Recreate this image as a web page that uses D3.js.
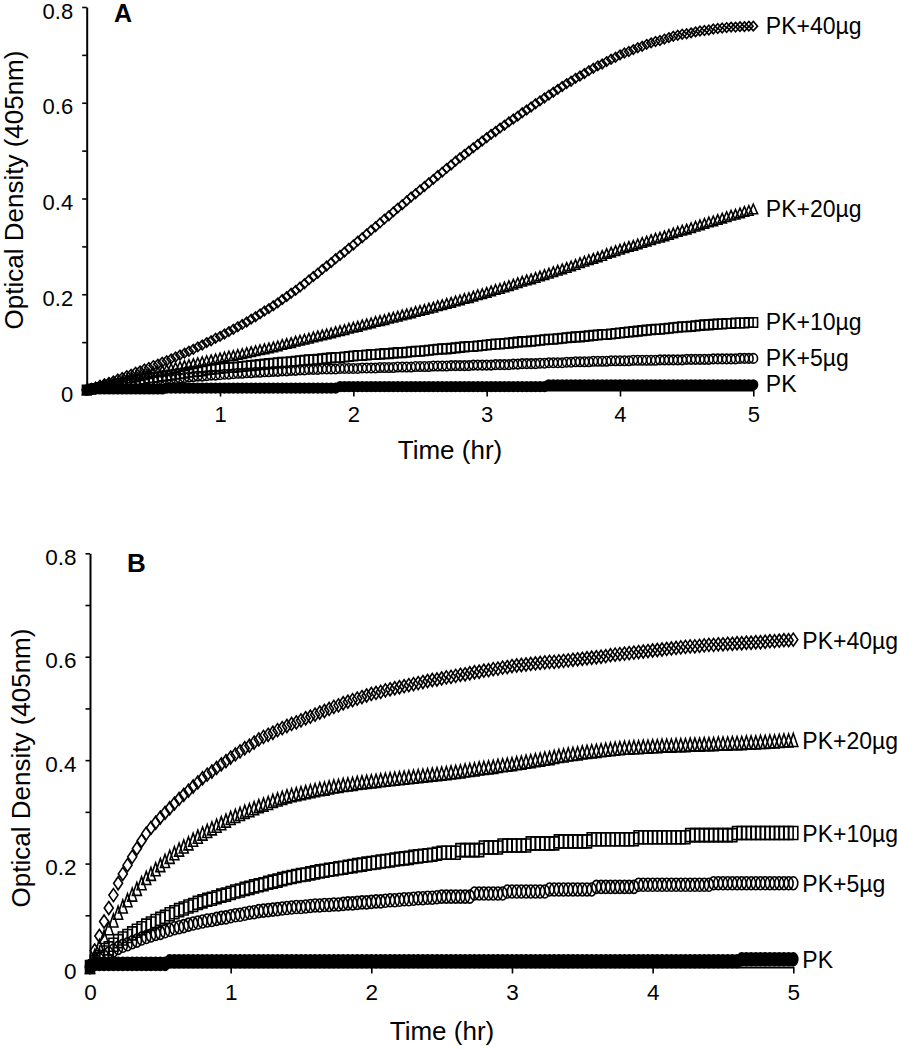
<!DOCTYPE html>
<html><head><meta charset="utf-8">
<script src="https://cdn.jsdelivr.net/npm/d3@7"></script>
<style>html,body{margin:0;padding:0;background:#fff;}svg{display:block;}</style>
</head><body>
<svg id="chart" width="897" height="1050"></svg>
<script>
// ---------- DATA ----------
const minutes = [0,2,4,6,8,10,12,14,16,18,20,22,24,26,28,30,32,34,36,38,40,42,44,46,48,50,52,54,56,58,
60,62,64,66,68,70,72,74,76,78,80,82,84,86,88,90,92,94,96,98,100,102,104,106,108,110,112,114,116,118,
120,122,124,126,128,130,132,134,136,138,140,142,144,146,148,150,152,154,156,158,160,162,164,166,168,170,172,174,176,178,
180,182,184,186,188,190,192,194,196,198,200,202,204,206,208,210,212,214,216,218,220,222,224,226,228,230,232,234,236,238,
240,242,244,246,248,250,252,254,256,258,260,262,264,266,268,270,272,274,276,278,280,282,284,286,288,290,292,294,296,298,300];

const seriesNames = ["PK+40\u00b5g","PK+20\u00b5g","PK+10\u00b5g","PK+5\u00b5g","PK"];
const markerTypes = ["diamond","triangle","square","circle","filled"];
const yMajorTicks = [0,0.2,0.4,0.6,0.8];
const yMinorTicks = [0.1,0.3,0.5,0.7];
const xTicksA = [1,2,3,4,5];
const xTicksB = [0,1,2,3,4,5];

// Panel A
const A_PK40 = [
0.000,0.003,0.006,0.010,0.013,0.016,
0.019,0.023,0.026,0.030,0.033,0.037,
0.040,0.044,0.047,0.051,0.054,0.058,
0.061,0.065,0.069,0.073,0.077,0.081,
0.085,0.090,0.094,0.099,0.103,0.108,
0.112,0.117,0.122,0.127,0.132,0.137,
0.142,0.148,0.153,0.159,0.165,0.170,
0.176,0.182,0.189,0.195,0.202,0.208,
0.215,0.222,0.230,0.237,0.244,0.252,
0.259,0.266,0.274,0.281,0.288,0.296,
0.303,0.311,0.318,0.326,0.334,0.341,
0.349,0.357,0.364,0.372,0.380,0.387,
0.395,0.403,0.410,0.418,0.425,0.433,
0.440,0.448,0.455,0.463,0.470,0.478,
0.485,0.492,0.499,0.506,0.513,0.520,
0.527,0.534,0.540,0.547,0.553,0.560,
0.566,0.572,0.579,0.585,0.591,0.598,
0.604,0.610,0.616,0.622,0.628,0.634,
0.640,0.645,0.651,0.656,0.661,0.667,
0.672,0.677,0.681,0.686,0.691,0.695,
0.700,0.704,0.707,0.711,0.715,0.718,
0.722,0.725,0.728,0.730,0.733,0.736,
0.739,0.741,0.743,0.744,0.746,0.748,
0.750,0.751,0.752,0.754,0.755,0.756,
0.757,0.758,0.758,0.759,0.759,0.760,
0.760];
const A_PK20 = [
0.000,0.002,0.005,0.007,0.009,0.012,
0.014,0.017,0.019,0.022,0.025,0.027,
0.030,0.032,0.034,0.037,0.039,0.041,
0.043,0.045,0.047,0.049,0.051,0.053,
0.055,0.057,0.059,0.061,0.063,0.065,
0.067,0.069,0.071,0.072,0.074,0.076,
0.078,0.080,0.082,0.084,0.086,0.088,
0.090,0.092,0.095,0.097,0.099,0.102,
0.104,0.106,0.108,0.111,0.113,0.115,
0.117,0.119,0.122,0.124,0.126,0.129,
0.131,0.133,0.136,0.138,0.140,0.143,
0.145,0.147,0.150,0.152,0.154,0.157,
0.159,0.161,0.164,0.166,0.168,0.171,
0.173,0.176,0.178,0.181,0.183,0.186,
0.188,0.191,0.193,0.196,0.199,0.201,
0.204,0.207,0.210,0.212,0.215,0.218,
0.221,0.224,0.227,0.230,0.232,0.235,
0.238,0.241,0.244,0.247,0.250,0.253,
0.256,0.259,0.262,0.266,0.269,0.272,
0.275,0.278,0.281,0.285,0.288,0.291,
0.294,0.297,0.300,0.302,0.305,0.308,
0.311,0.314,0.317,0.319,0.322,0.325,
0.328,0.331,0.334,0.336,0.339,0.342,
0.345,0.348,0.351,0.353,0.356,0.359,
0.362,0.365,0.367,0.370,0.373,0.375,
0.378];
const A_PK10 = [
0.000,0.002,0.003,0.005,0.007,0.008,
0.010,0.012,0.014,0.016,0.018,0.020,
0.022,0.023,0.025,0.026,0.027,0.029,
0.030,0.031,0.033,0.034,0.035,0.037,
0.038,0.039,0.040,0.042,0.043,0.044,
0.045,0.046,0.047,0.047,0.048,0.049,
0.050,0.051,0.052,0.053,0.054,0.055,
0.056,0.057,0.058,0.058,0.059,0.060,
0.061,0.062,0.063,0.063,0.064,0.065,
0.066,0.067,0.068,0.068,0.069,0.070,
0.071,0.072,0.072,0.073,0.074,0.074,
0.075,0.076,0.076,0.077,0.078,0.078,
0.079,0.080,0.081,0.081,0.082,0.083,
0.084,0.085,0.086,0.086,0.087,0.088,
0.089,0.090,0.091,0.091,0.092,0.093,
0.094,0.095,0.096,0.096,0.097,0.098,
0.099,0.100,0.101,0.101,0.102,0.103,
0.104,0.105,0.106,0.106,0.107,0.108,
0.109,0.110,0.111,0.111,0.112,0.113,
0.114,0.115,0.116,0.116,0.117,0.118,
0.119,0.120,0.121,0.122,0.123,0.124,
0.125,0.126,0.127,0.127,0.128,0.129,
0.130,0.131,0.132,0.132,0.133,0.134,
0.135,0.136,0.136,0.137,0.138,0.138,
0.139,0.139,0.140,0.140,0.140,0.141,
0.141];
const A_PK5 = [
0.000,0.001,0.003,0.004,0.005,0.007,
0.008,0.009,0.011,0.012,0.013,0.015,
0.016,0.017,0.018,0.019,0.020,0.021,
0.022,0.023,0.024,0.025,0.026,0.027,
0.028,0.029,0.029,0.030,0.031,0.031,
0.032,0.033,0.033,0.034,0.035,0.035,
0.036,0.036,0.037,0.037,0.038,0.038,
0.039,0.039,0.040,0.040,0.041,0.041,
0.042,0.042,0.043,0.043,0.043,0.044,
0.044,0.044,0.044,0.045,0.045,0.045,
0.045,0.045,0.046,0.046,0.046,0.046,
0.047,0.047,0.047,0.047,0.048,0.048,
0.048,0.048,0.049,0.049,0.049,0.049,
0.050,0.050,0.050,0.050,0.051,0.051,
0.051,0.051,0.051,0.052,0.052,0.052,
0.052,0.052,0.053,0.053,0.053,0.053,
0.054,0.054,0.055,0.055,0.055,0.055,
0.056,0.056,0.057,0.057,0.057,0.057,
0.058,0.058,0.059,0.059,0.059,0.059,
0.060,0.060,0.060,0.060,0.061,0.061,
0.061,0.061,0.061,0.062,0.062,0.062,
0.062,0.062,0.062,0.063,0.063,0.063,
0.063,0.063,0.063,0.064,0.064,0.064,
0.064,0.064,0.064,0.065,0.065,0.065,
0.065,0.065,0.065,0.066,0.066,0.066,
0.066];
const A_PK = [
0.000,0.002,0.002,0.002,0.002,0.002,0.002,0.002,0.002,0.002,
0.002,0.002,0.002,0.002,0.002,0.002,0.002,0.002,0.004,0.004,
0.004,0.004,0.004,0.004,0.004,0.004,0.004,0.004,0.004,0.004,
0.004,0.004,0.004,0.004,0.004,0.004,0.004,0.004,0.004,0.004,
0.004,0.004,0.004,0.004,0.004,0.004,0.004,0.004,0.004,0.004,
0.004,0.004,0.004,0.004,0.004,0.004,0.004,0.007,0.007,0.007,
0.007,0.007,0.007,0.007,0.007,0.007,0.007,0.007,0.007,0.007,
0.007,0.007,0.007,0.007,0.007,0.007,0.007,0.007,0.007,0.007,
0.007,0.007,0.007,0.007,0.007,0.007,0.007,0.007,0.007,0.007,
0.007,0.007,0.007,0.007,0.007,0.007,0.007,0.007,0.007,0.007,
0.007,0.007,0.007,0.007,0.011,0.011,0.011,0.011,0.011,0.011,
0.011,0.011,0.011,0.011,0.011,0.011,0.011,0.011,0.011,0.011,
0.011,0.011,0.011,0.011,0.011,0.011,0.011,0.011,0.011,0.011,
0.011,0.011,0.011,0.011,0.011,0.011,0.011,0.011,0.011,0.011,
0.011,0.011,0.011,0.011,0.011,0.011,0.011,0.011,0.011,0.011,
0.011];

// Panel B
const B_PK40 = [
0.000,0.032,0.060,0.088,0.114,0.139,
0.162,0.180,0.197,0.213,0.229,0.244,
0.258,0.269,0.279,0.289,0.298,0.307,
0.316,0.325,0.333,0.341,0.349,0.357,
0.365,0.372,0.378,0.385,0.392,0.398,
0.405,0.411,0.417,0.423,0.428,0.434,
0.440,0.445,0.449,0.453,0.458,0.462,
0.466,0.470,0.473,0.477,0.481,0.484,
0.488,0.492,0.495,0.499,0.503,0.506,
0.510,0.513,0.516,0.519,0.522,0.525,
0.528,0.530,0.532,0.535,0.537,0.539,
0.541,0.543,0.545,0.547,0.549,0.551,
0.553,0.555,0.556,0.558,0.560,0.561,
0.563,0.565,0.566,0.568,0.570,0.571,
0.573,0.574,0.576,0.577,0.579,0.580,
0.582,0.583,0.584,0.585,0.586,0.587,
0.588,0.589,0.590,0.590,0.591,0.592,
0.593,0.594,0.595,0.596,0.597,0.598,
0.599,0.600,0.601,0.603,0.604,0.605,
0.606,0.607,0.608,0.609,0.610,0.611,
0.612,0.613,0.614,0.615,0.616,0.617,
0.618,0.619,0.620,0.620,0.621,0.622,
0.623,0.623,0.624,0.624,0.625,0.625,
0.626,0.626,0.627,0.627,0.628,0.628,
0.629,0.630,0.630,0.631,0.632,0.632,
0.633];
const B_PK20 = [
0.000,0.021,0.040,0.058,0.075,0.090,
0.105,0.117,0.129,0.140,0.151,0.162,
0.172,0.180,0.189,0.197,0.205,0.213,
0.220,0.227,0.233,0.239,0.246,0.252,
0.258,0.263,0.268,0.273,0.278,0.283,
0.288,0.292,0.296,0.300,0.303,0.307,
0.311,0.314,0.317,0.321,0.324,0.327,
0.330,0.332,0.334,0.336,0.338,0.340,
0.342,0.344,0.345,0.347,0.349,0.350,
0.352,0.353,0.354,0.356,0.357,0.358,
0.359,0.360,0.361,0.362,0.363,0.364,
0.365,0.366,0.367,0.368,0.369,0.370,
0.371,0.372,0.373,0.374,0.375,0.376,
0.377,0.378,0.380,0.381,0.382,0.384,
0.385,0.386,0.387,0.389,0.390,0.391,
0.392,0.394,0.395,0.397,0.398,0.400,
0.401,0.403,0.404,0.406,0.408,0.409,
0.411,0.412,0.413,0.415,0.416,0.417,
0.418,0.419,0.420,0.421,0.422,0.423,
0.424,0.424,0.425,0.425,0.426,0.426,
0.427,0.427,0.428,0.428,0.428,0.429,
0.429,0.429,0.430,0.430,0.430,0.431,
0.431,0.431,0.432,0.432,0.432,0.433,
0.433,0.433,0.434,0.434,0.434,0.435,
0.435,0.436,0.436,0.437,0.438,0.438,
0.439];
const B_PK10 = [
0.000,0.010,0.019,0.028,0.036,0.043,
0.050,0.055,0.060,0.065,0.070,0.075,
0.080,0.084,0.089,0.093,0.097,0.102,
0.106,0.110,0.113,0.117,0.120,0.124,
0.127,0.130,0.132,0.135,0.138,0.140,
0.143,0.146,0.148,0.151,0.153,0.156,
0.158,0.160,0.163,0.165,0.167,0.170,
0.172,0.174,0.176,0.178,0.179,0.181,
0.183,0.185,0.186,0.188,0.189,0.191,
0.192,0.194,0.195,0.197,0.198,0.200,
0.201,0.202,0.204,0.205,0.206,0.208,
0.209,0.210,0.211,0.213,0.214,0.215,
0.216,0.217,0.219,
0.221,0.221,0.221,0.221,
0.226,0.226,0.226,0.226,0.226,
0.231,0.231,0.231,0.231,
0.235,0.235,0.235,0.235,0.235,0.235,
0.239,0.239,0.239,0.239,0.239,0.239,
0.243,0.243,0.243,0.243,0.243,0.243,0.243,
0.247,0.247,0.247,0.247,0.247,0.247,0.247,0.247,0.247,0.247,
0.251,0.251,0.251,0.251,0.251,0.251,0.251,0.251,0.251,0.251,0.251,
0.255,0.255,0.255,0.255,0.255,0.255,0.255,0.255,0.255,0.255,
0.259,0.259,0.259,0.259,0.259,0.259,0.259,0.259,0.259,0.259,0.259,0.259,0.259];
const B_PK5 = [
0.000,0.007,0.014,0.020,0.026,0.032,
0.037,0.041,0.044,0.048,0.051,0.055,
0.058,0.061,0.064,0.066,0.069,0.072,
0.075,0.077,0.079,0.082,0.084,0.086,
0.088,0.090,0.091,0.093,0.095,0.096,
0.098,0.100,0.101,0.103,0.105,0.106,
0.108,0.109,0.110,0.111,0.112,0.113,
0.114,0.115,0.116,0.116,0.117,0.118,
0.119,0.119,0.120,0.120,0.121,0.121,
0.122,0.123,0.123,0.124,0.125,0.125,
0.126,0.127,0.127,0.128,0.129,0.129,
0.130,0.131,0.131,0.132,0.133,0.133,
0.134,0.134,0.135,
0.136,0.136,0.136,0.136,0.136,0.136,0.136,
0.142,0.142,0.142,0.142,0.142,0.142,0.142,
0.146,0.146,0.146,0.146,0.146,0.146,0.146,0.146,0.146,
0.150,0.150,0.150,0.150,0.150,0.150,0.150,0.150,0.150,0.150,
0.155,0.155,0.155,0.155,0.155,0.155,0.155,0.155,0.155,
0.159,0.159,0.159,0.159,0.159,0.159,0.159,0.159,0.159,0.159,0.159,0.159,0.159,0.159,0.159,0.159,
0.162,0.162,0.162,0.162,0.162,0.162,0.162,0.162,0.162,0.162,0.162,0.162,0.162,0.162,0.162,0.162,0.162,0.162];
const B_PK = [
0.002,0.006,0.006,0.006,0.006,0.006,0.006,0.006,0.006,0.006,
0.006,0.006,0.006,0.006,0.006,0.006,0.006,0.011,0.011,0.011,
0.011,0.011,0.011,0.011,0.011,0.011,0.011,0.011,0.011,0.011,
0.011,0.011,0.011,0.011,0.011,0.011,0.011,0.011,0.011,0.011,
0.011,0.011,0.011,0.011,0.011,0.011,0.011,0.011,0.011,0.011,
0.011,0.011,0.011,0.011,0.011,0.011,0.011,0.011,0.011,0.011,
0.011,0.011,0.011,0.011,0.011,0.011,0.011,0.011,0.011,0.011,
0.011,0.011,0.011,0.011,0.011,0.011,0.011,0.011,0.011,0.011,
0.011,0.011,0.011,0.011,0.011,0.011,0.011,0.011,0.011,0.011,
0.011,0.011,0.011,0.011,0.011,0.011,0.011,0.011,0.011,0.011,
0.011,0.011,0.011,0.011,0.011,0.011,0.011,0.011,0.011,0.011,
0.011,0.011,0.011,0.011,0.011,0.011,0.011,0.011,0.011,0.011,
0.011,0.011,0.011,0.011,0.011,0.011,0.011,0.011,0.011,0.011,
0.011,0.011,0.011,0.011,0.011,0.011,0.011,0.011,0.011,0.015,
0.015,0.015,0.015,0.015,0.015,0.015,0.015,0.015,0.015,0.015,
0.015];

const panelAValues = [A_PK40, A_PK20, A_PK10, A_PK5, A_PK];
const panelBValues = [B_PK40, B_PK20, B_PK10, B_PK5, B_PK];

// ---------- DRAWING ----------
const FONT = "'Liberation Sans', Arial, Helvetica, sans-serif";
const hours = minutes.map(m => m / 60);
const svg = d3.select("#chart");
svg.append("rect").attr("width", 897).attr("height", 1050).attr("fill", "#fff");

function markerPath(type, w, h) {
  const a = w / 2, b = h / 2;
  if (type === "diamond") return `M0,${-b}L${a},0L0,${b}L${-a},0Z`;
  if (type === "triangle") return `M0,${-b}L${a},${b}L${-a},${b}Z`;
  if (type === "square") return `M${-a},${-b}H${a}V${b}H${-a}Z`;
  return `M${-a},0A${a},${b} 0 1,0 ${a},0A${a},${b} 0 1,0 ${-a},0Z`;
}

function drawPanel(cfg) {
  const g = svg.append("g");
  const x = d3.scaleLinear().domain([0, 5]).range(cfg.xRange);
  const y = d3.scaleLinear().domain([0, 0.8]).range(cfg.yRange);
  const fmt = d => d === 0 ? "0" : d3.format(".1f")(d);

  // y axis (major + minor)
  g.append("g").attr("class", "yaxis").attr("transform", `translate(${cfg.xRange[0]},0)`)
    .call(d3.axisLeft(y).tickValues(yMajorTicks).tickFormat(fmt).tickSize(4.5).tickSizeOuter(0).tickPadding(9))
    .call(s => s.selectAll(".tick text").attr("dy", cfg.yLabelDy));
  g.append("g").attr("transform", `translate(${cfg.xRange[0]},0)`)
    .call(d3.axisLeft(y).tickValues(yMinorTicks).tickFormat("").tickSize(4.5).tickSizeOuter(0))
    .call(s => s.select(".domain").remove());

  // x axis
  g.append("g").attr("transform", `translate(0,${cfg.yRange[0]})`)
    .call(d3.axisBottom(x).tickValues(cfg.xTicks).tickFormat(d3.format("d")).tickSize(6.5).tickSizeOuter(0).tickPadding(cfg.xPad));

  g.selectAll(".domain").attr("stroke", "#000").attr("stroke-width", 2);
  g.selectAll(".tick line").attr("stroke", "#000").attr("stroke-width", 1.6);
  g.selectAll(".tick text").attr("font-family", FONT).attr("font-size", cfg.tickFont).attr("fill", "#000");

  // series markers
  const order = [4, 3, 2, 1, 0];
  order.forEach(si => {
    const vals = cfg.values[si];
    const type = markerTypes[si];
    const filled = type === "filled";
    const d = markerPath(filled ? "circle" : type, cfg.mw, cfg.mh);
    g.append("g").selectAll("path").data(vals).join("path")
      .attr("transform", (v, i) => `translate(${x(hours[i])},${y(v)})`)
      .attr("d", d)
      .attr("fill", filled ? "#000" : "none")
      .attr("stroke", "#000")
      .attr("stroke-width", cfg.sw);
  });

  // end labels
  cfg.values.forEach((vals, si) => {
    g.append("text")
      .attr("x", x(5) + cfg.labelDx)
      .attr("y", y(vals[vals.length - 1]) + cfg.labelDy)
      .attr("font-family", FONT).attr("font-size", cfg.labelFont).attr("fill", "#000")
      .text(seriesNames[si]);
  });

  // axis titles
  g.append("text")
    .attr("transform", `translate(${cfg.yTitlePos[0]},${cfg.yTitlePos[1]}) rotate(-90)`)
    .attr("text-anchor", "middle").attr("font-family", FONT).attr("font-size", 26).attr("fill", "#000")
    .text("Optical Density (405nm)");
  g.append("text")
    .attr("x", cfg.xTitlePos[0]).attr("y", cfg.xTitlePos[1])
    .attr("text-anchor", "middle").attr("font-family", FONT).attr("font-size", 26).attr("fill", "#000")
    .text("Time (hr)");

  // panel letter
  g.append("text")
    .attr("x", cfg.letterPos[0]).attr("y", cfg.letterPos[1])
    .attr("font-family", FONT).attr("font-weight", "bold").attr("font-size", cfg.letterFont).attr("fill", "#000")
    .text(cfg.letter);
}

drawPanel({
  values: panelAValues, xRange: [86.7, 753.3], yRange: [390, 7], xTicks: xTicksA, xPad: 10, yLabelDy: "0.5em",
  mw: 8.5, mh: 9.5, sw: 1.6, tickFont: 22, labelFont: 23, labelDx: 12.5, labelDy: 7.5,
  yTitlePos: [23, 190], xTitlePos: [450, 459], letter: "A", letterPos: [114, 22], letterFont: 25
});
drawPanel({
  values: panelBValues, xRange: [90, 793.3], yRange: [967, 553.3], xTicks: xTicksB, xPad: 11, yLabelDy: "0.5em",
  mw: 9, mh: 13, sw: 1.6, tickFont: 22.5, labelFont: 23, labelDx: 9, labelDy: 9,
  yTitlePos: [30, 768], xTitlePos: [442, 1040], letter: "B", letterPos: [127, 572], letterFont: 26
});
</script>
</body></html>
